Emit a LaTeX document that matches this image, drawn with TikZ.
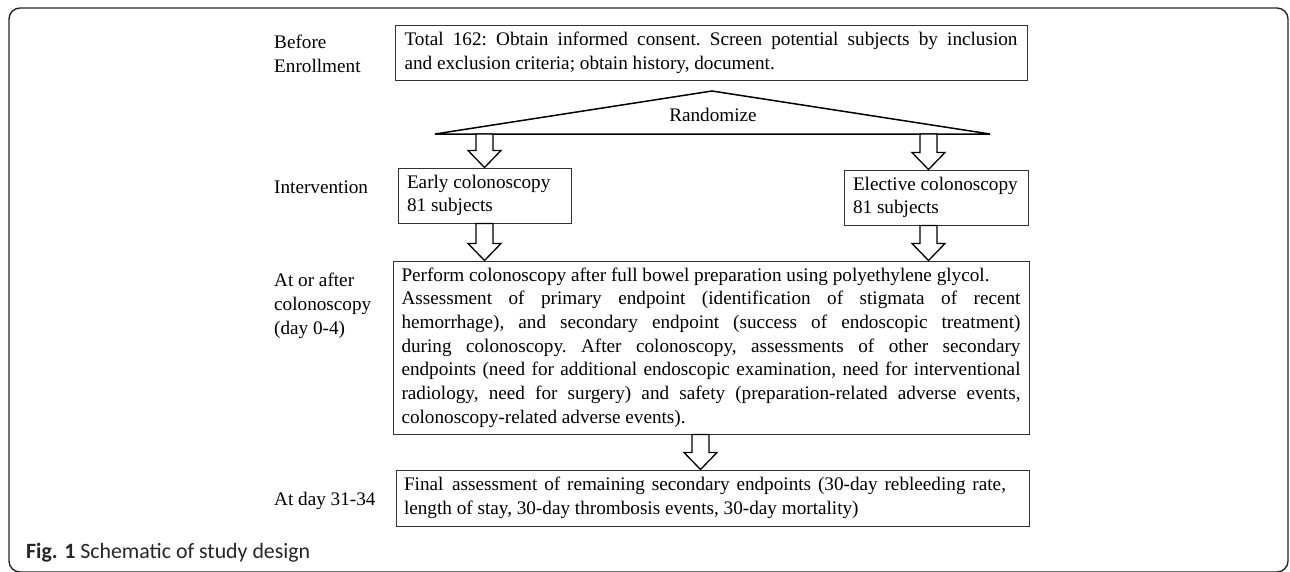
\documentclass[tikz,border=0pt]{standalone}
\usepackage{fontspec}
\setmainfont{Liberation Serif}
\newfontfamily\capfont{Carlito}
\usetikzlibrary{calc}
\newlength\mylw
\newcommand\myperfline{Perform colonoscopy after full bowel preparation using polyethylene glycol.}
\newcommand\mycaption{\textbf{Fig. 1} Schematic of study design}
\newcommand\fsp{\spaceskip=0pt\xspaceskip=0pt\frenchspacing}
\newcommand\jline[2]{\makebox[#1][s]{#2}}
\newcommand\blockarrow[2]{\draw[blockarr] let \p1=#1, \p2=#2 in
  (\x1-8.5pt,\y1) -- (\x1-8.5pt,\y2+17pt) -- (\x1-16.5pt,\y2+17pt) -- (\x1,\y2)
  -- (\x1+16.5pt,\y2+17pt) -- (\x1+8.5pt,\y2+17pt) -- (\x1+8.5pt,\y1) -- cycle;}
\begin{document}
\settowidth{\mylw}{\fontsize{10pt}{12pt}\selectfont\frenchspacing\myperfline}%
\pgfmathsetmacro\fs{10*588/\mylw}%
\pgfmathsetmacro\bs{\fs*1.232}%
\settowidth{\mylw}{\capfont\fontsize{10pt}{12pt}\selectfont\mycaption}%
\pgfmathsetmacro\cfs{10*284/\mylw}%
\def\bodyfont{\fontsize{\fs pt}{\bs pt}\selectfont}%
\begin{tikzpicture}[x=1pt,y=1pt,
  lab/.style={anchor=base west, inner sep=0pt, font=\bodyfont},
  box/.style={draw=black!80, line width=1pt, inner sep=0pt, align=left, font=\bodyfont},
  blockarr/.style={draw=black, fill=white, line width=1.3pt, line join=miter},
  tri/.style={draw=black, line width=1.5pt, line join=miter},
  frame/.style={draw=black!85, line width=1.4pt, rounded corners=11pt}]
\useasboundingbox (0,0) rectangle (1290,-571);

% outer frame
\draw[frame] (9,-8) rectangle (1288,-572);

% left labels
\node[lab] (lb1) at (274,-48) {Before};
\node[lab] (lb2) at (274,-72) {Enrollment};
\node[lab] (li) at (274,-193) {Intervention};
\node[lab] (la1) at (274,-286) {At or after};
\node[lab] (la2) at (274,-310) {colonoscopy};
\node[lab] (la3) at (274,-334) {(day 0-4)};
\node[lab] (ld) at (274,-505) {At day 31-34};

% top box
\node[box, minimum width=632pt, minimum height=55pt, text width=613pt] (top) at (711,-52.5)
  {\fsp\jline{613pt}{Total 162: Obtain informed consent. Screen potential subjects by inclusion}\\
   and exclusion criteria; obtain history, document.};

% randomize triangle
\coordinate (apex) at (712,-91);
\coordinate (bl) at (435,-134);
\coordinate (br) at (990,-134);
\draw[tri] (bl) -- (apex) -- (br) -- cycle;
\node[font=\bodyfont, inner sep=0pt, anchor=base] (rand) at (713,-121) {Randomize};

% arms
\node[box, minimum width=173pt, minimum height=55pt, text width=155pt] (early) at (484.5,-195.5)
  {\fsp Early colonoscopy\\81 subjects};
\node[box, minimum width=184pt, minimum height=55pt, text width=166pt] (elective) at (936,-197.5)
  {\fsp Elective colonoscopy\\81 subjects};

% big box
\node[box, minimum width=636pt, minimum height=173pt, text width=619pt] (big) at (711,-347.5)
  {\fsp\myperfline\\
   \jline{619pt}{Assessment of primary endpoint (identification of stigmata of recent}\\
   \jline{619pt}{hemorrhage), and secondary endpoint (success of endoscopic treatment)}\\
   \jline{619pt}{during colonoscopy. After colonoscopy, assessments of other secondary}\\
   \jline{619pt}{endpoints (need for additional endoscopic examination, need for interventional}\\
   \jline{619pt}{radiology, need for surgery) and safety (preparation-related adverse events,}\\
   colonoscopy-related adverse events).};

% final box
\node[box, minimum width=633pt, minimum height=56pt, text width=617pt] (final) at (712.5,-498)
  {\fsp\jline{602pt}{Final\hspace{0.45em}assessment of remaining secondary endpoints (30-day rebleeding rate,}\\
   length of stay, 30-day thrombosis events, 30-day mortality)};

% block arrows
\coordinate (s1) at (484.5,-134);
\coordinate (s2) at (928.5,-134);
\blockarrow{(s1)}{(s1 |- early.north)}
\blockarrow{(s2)}{(s2 |- elective.north)}
\coordinate (s3) at (early.south);
\coordinate (s4) at ($(elective.south)+(-7.5,0)$);
\blockarrow{(s3)}{(s3 |- big.north)}
\blockarrow{(s4)}{(s4 |- big.north)}
\coordinate (s5) at ($(big.south)+(-10.5,0)$);
\blockarrow{(s5)}{(s5 |- final.north)}

% caption
\node[anchor=base west, inner sep=0pt, font={\capfont\fontsize{\cfs pt}{\cfs pt}\selectfont}, text=black!85] (cap) at (26,-558) {\mycaption};
\end{tikzpicture}
\end{document}
